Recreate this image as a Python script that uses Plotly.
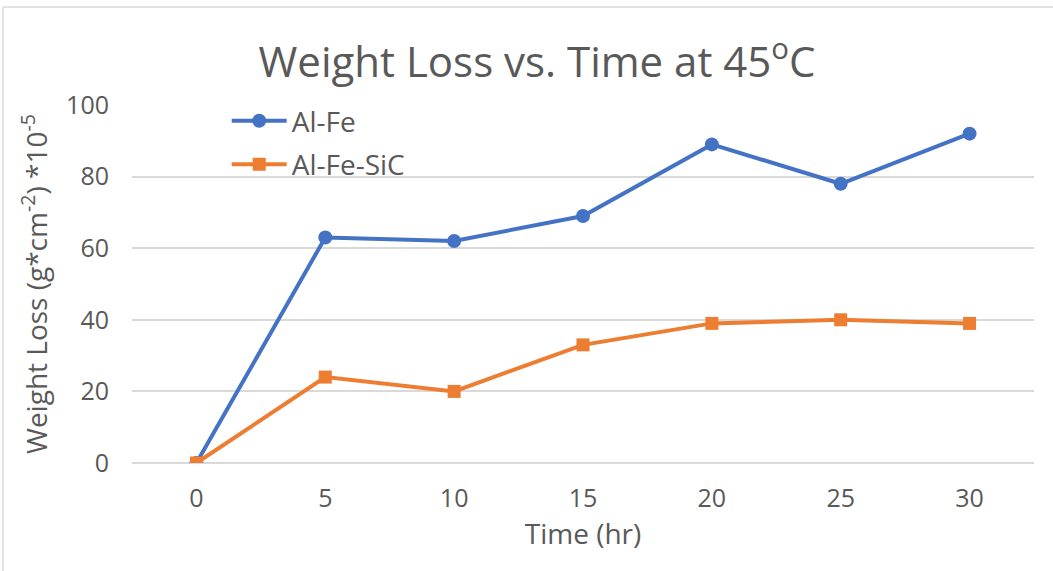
import plotly.graph_objects as go

# Exposure time (hours) and weight loss (g*cm^-2 * 10^-5)
time_hr = ["0", "5", "10", "15", "20", "25", "30"]
al_fe = [0, 63, 62, 69, 89, 78, 92]
al_fe_sic = [0, 24, 20, 33, 39, 40, 39]

BLUE = "#4472C4"
ORANGE = "#ED7D31"
TEXT = "#595959"
GRID = "#D9D9D9"
FONT = "Open Sans"

fig = go.Figure()
fig.add_trace(go.Scatter(
    x=time_hr, y=al_fe, name="Al-Fe", mode="lines+markers", legendgroup="a",
    line=dict(color=BLUE, width=4),
    marker=dict(symbol="circle", size=14, color=BLUE),
))
fig.add_trace(go.Scatter(
    x=time_hr, y=al_fe_sic, name="Al-Fe-SiC", mode="lines+markers", legendgroup="b",
    line=dict(color=ORANGE, width=4),
    marker=dict(symbol="square", size=13, color=ORANGE),
))

fig.update_layout(
    width=1053, height=571,
    margin=dict(l=132, r=19, t=105, b=108),
    paper_bgcolor="white", plot_bgcolor="white",
    font=dict(family=FONT, color=TEXT),
    title=dict(
        text="Weight Loss vs. Time at 45<sup>o</sup>C",
        font=dict(size=42, color=TEXT, family=FONT),
        x=0.51, xanchor="center", y=0.891, yanchor="middle",
    ),
    legend=dict(
        x=0.105, y=1.025, xanchor="left", yanchor="top",
        bgcolor="rgba(0,0,0,0)", font=dict(size=28, color=TEXT),
        traceorder="grouped", tracegroupgap=4, itemwidth=55,
    ),
    xaxis=dict(
        type="category", range=[-0.5, 6.5],
        title=dict(text="Time (hr)", font=dict(size=28, color=TEXT), standoff=5),
        tickfont=dict(size=25, color=TEXT),
        showgrid=False, showline=False, zeroline=False,
        ticks="", ticklabelstandoff=18,
    ),
    yaxis=dict(
        range=[0, 100], dtick=20,
        title=dict(text="Weight Loss (g*cm<sup>-2</sup>) *10<sup>-5</sup>",
                   font=dict(size=28, color=TEXT), standoff=10),
        tickfont=dict(size=25, color=TEXT),
        showgrid=True, gridcolor=GRID, gridwidth=1.5,
        zeroline=True, zerolinecolor=GRID, zerolinewidth=1.5,
        showline=False, ticks="", ticklabelstandoff=22,
    ),
    shapes=[
        dict(type="line", xref="paper", yref="paper",
             x0=-0.143, x1=-0.143, y0=-0.35, y1=1.274,
             line=dict(color=GRID, width=1.5)),
        dict(type="line", xref="paper", yref="paper",
             x0=-0.143, x1=1.05, y0=1.274, y1=1.274,
             line=dict(color=GRID, width=1.5)),
    ],
)

fig.write_html("out.html")
